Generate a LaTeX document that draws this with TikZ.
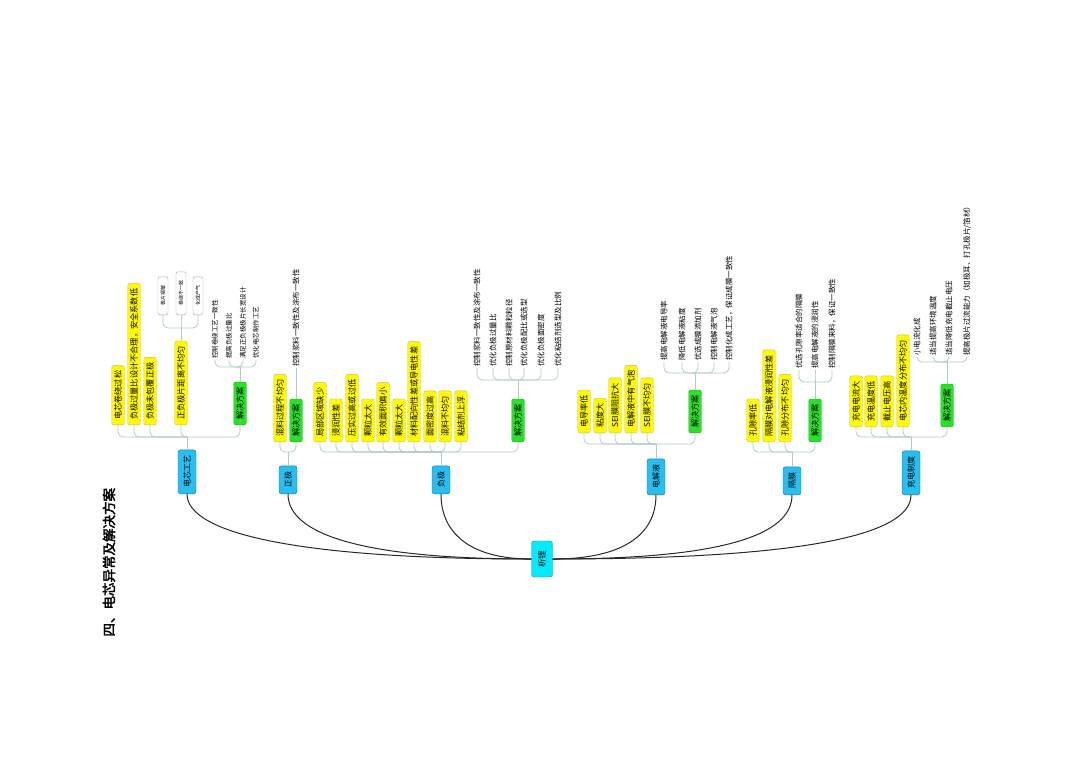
\documentclass[tikz,border=0pt]{standalone}
\usepackage{fontspec}
\setmainfont{Noto Sans CJK SC}[AutoFakeBold=2.5]
\usetikzlibrary{calc}
\definecolor{leafColor}{RGB}{255,250,0}
\definecolor{leafEdge}{RGB}{200,190,60}
\definecolor{planColor}{RGB}{40,225,40}
\definecolor{planEdge}{RGB}{40,160,40}
\definecolor{branchColor}{RGB}{40,190,240}
\definecolor{branchEdge}{RGB}{30,110,170}
\definecolor{rootColor}{RGB}{0,235,255}
\definecolor{rootEdge}{RGB}{40,140,170}
\definecolor{linkColor}{RGB}{175,205,190}
\definecolor{trunkColor}{RGB}{40,40,40}
\definecolor{causeEdge}{RGB}{160,170,165}

\begin{document}
\begin{tikzpicture}[x=1pt,y=-1pt,
leaf/.style={
    rotate=90, draw=leafEdge, fill=leafColor, rounded corners=2pt,
    inner xsep=5pt, inner ysep=0pt, minimum height=12.5pt,
    font=\fontsize{8.2}{9}\selectfont},
plan/.style={
    leaf, draw=planEdge, fill=planColor},
cause/.style={
    leaf, draw=causeEdge, fill=white, inner xsep=9pt, minimum height=10pt,
    font=\fontsize{5}{6}\selectfont},
branch/.style={
    rotate=90, draw=branchEdge, fill=branchColor, rounded corners=2.5pt,
    inner xsep=6pt, minimum height=18pt,
    font=\fontsize{8}{9}\selectfont},
rootbox/.style={
    branch, draw=rootEdge, fill=rootColor, minimum height=21pt,
    minimum width=36pt, font=\fontsize{8.5}{9}\selectfont},
item/.style={
    rotate=90, inner xsep=1pt, inner ysep=1pt,
    font=\fontsize{7.5}{8}\selectfont},
smallitem/.style={
    item, font=\fontsize{6.5}{7}\selectfont},
link/.style={
    draw=linkColor, line width=0.8pt, rounded corners=5pt},
trunk/.style={
    draw=trunkColor, line width=1pt}
]

\useasboundingbox (0,0) rectangle (1080,764);

\node[rotate=90, anchor=west, font=\fontsize{13.5}{14}\selectfont\bfseries]
        (title) at (109,640) {四、电芯异常及解决方案};

\node[rootbox] (root) at (542,559) {析锂};

\node[branch, anchor=west] (gy) at (187,494) {电芯工艺};
\node[branch, anchor=west] (zj) at (288,494) {正极};
\node[branch, anchor=west] (fj) at (441,494) {负极};
\node[branch, anchor=west] (dj) at (656,495) {电解液};
\node[branch, anchor=west] (gm) at (792,495) {隔膜};
\node[branch, anchor=west] (cd) at (911,495) {充电制度};

\foreach \b/\d in {gy/-230, zj/-170, fj/-60}
    \draw[trunk] (\b.west) .. controls +(0,40) and +(\d,0) .. (root.north);
\foreach \b/\d in {dj/70, gm/170, cd/250}
    \draw[trunk] (\b.west) .. controls +(0,40) and +(\d,0) .. (root.south);

% 电芯工艺
\foreach \x/\t [count=\i] in {118/电芯卷绕过松, 134/{负极过量比设计不合理，安全系数低},
                             150/负极未包覆正极, 181/正负极片距离不均匀}
    \node[leaf, anchor=west] (gy\i) at (\x,425) {\t};
\node[plan, anchor=west] (gyP) at (240,425) {解决方案};
\coordinate (gyJ) at (187,437);
\draw[link] (gy.east) -- (gyJ);
\foreach \n in {gy1,gy2,gy3,gy4,gyP}
    \draw[link] (gyJ) -| (\n.west);

\foreach \x/\t [count=\i] in {163/极片褶皱, 181/卷绕不一致, 198/化成产气}
    \node[cause, anchor=west] (gy4c\i) at (\x,315) {\t};
\coordinate (gy4J) at (181,328);
\draw[link] (gy4.east) -- (gy4J);
\foreach \i in {1,2,3}
    \draw[link] (gy4J) -| (gy4c\i.west);

\foreach \x/\t [count=\i] in {215/控制卷绕工艺一致性, 229/提高负极过量比,
                             243/满足正负极极片长宽设计, 256/优化电芯制作工艺}
    \node[smallitem, anchor=west] (gyP\i) at (\x,360) {\t};
\coordinate (gyPJ) at (240,367);
\draw[link] (gyP.east) -- (gyPJ);
\foreach \i in {1,...,4}
    \draw[link] (gyPJ) -| (gyP\i.west);

% 正极
\node[leaf, anchor=west] (zj1) at (280,442) {混料过程不均匀};
\node[plan, anchor=west] (zjP) at (296,442) {解决方案};
\coordinate (zjJ) at (288,452);
\draw[link] (zj.east) -- (zjJ);
\foreach \n in {zj1,zjP}
    \draw[link] (zjJ) -| (\n.west);
\node[item, anchor=west] (zjP1) at (296,368) {控制浆料一致性及涂布一致性};
\draw[link] (zjP.east) -- (zjP1.west);

% 负极
\foreach \x/\t [count=\i] in {320/局部区域缺少, 336/浸润性差, 352/压实过高或过低,
                             368/颗粒太大, 383/有效面积偏小, 399/颗粒太大,
                             414/材料配向性差或导电性差, 430/面密度过高,
                             445/混料不均匀, 461/粘结剂上浮}
    \node[leaf, anchor=west] (fj\i) at (\x,442) {\t};
\node[plan, anchor=west] (fjP) at (518,442) {解决方案};
\coordinate (fjJ) at (441,452);
\draw[link] (fj.east) -- (fjJ);
\foreach \n in {fj1,fj2,fj3,fj4,fj5,fj6,fj7,fj8,fj9,fj10,fjP}
    \draw[link] (fjJ) -| (\n.west);

\foreach \x/\t [count=\i] in {477/控制浆料一致性及涂布一致性, 493/优化负极过量比,
                             509/控制原材料颗粒粒径, 524/优化负极配比或选型,
                             541/优化负极面密度, 558/优化粘结剂选型及比例}
    \node[item, anchor=west] (fjP\i) at (\x,368) {\t};
\coordinate (fjPJ) at (518,380);
\draw[link] (fjP.east) -- (fjPJ);
\foreach \i in {1,...,6}
    \draw[link] (fjPJ) -| (fjP\i.west);

% 电解液
\foreach \x/\t [count=\i] in {584/电导率低, 600/粘度大, 615/SEI膜阻抗大,
                             631/电解液中有气泡, 647/SEI膜不均匀}
    \node[leaf, anchor=west] (dj\i) at (\x,433) {\t};
\node[plan, anchor=west] (djP) at (695,433) {解决方案};
\coordinate (djJ) at (656,444);
\draw[link] (dj.east) -- (djJ);
\foreach \n in {dj1,dj2,dj3,dj4,dj5,djP}
    \draw[link] (djJ) -| (\n.west);

\foreach \x/\t [count=\i] in {664/提高电解液电导率, 682/降低电解液粘度,
                             698/优选成膜添加剂, 714/控制电解液气泡,
                             729/{控制化成工艺，保证成膜一致性}}
    \node[item, anchor=west] (djP\i) at (\x,362) {\t};
\coordinate (djPJ) at (695,373);
\draw[link] (djP.east) -- (djPJ);
\foreach \i in {1,...,5}
    \draw[link] (djPJ) -| (djP\i.west);

% 隔膜
\foreach \x/\t [count=\i] in {753/孔隙率低, 769/隔膜对电解液浸润性差, 785/孔隙分布不均匀}
    \node[leaf, anchor=west] (gm\i) at (\x,442) {\t};
\node[plan, anchor=west] (gmP) at (815,442) {解决方案};
\coordinate (gmJ) at (792,452);
\draw[link] (gm.east) -- (gmJ);
\foreach \n in {gm1,gm2,gm3,gmP}
    \draw[link] (gmJ) -| (\n.west);

\foreach \x/\t [count=\i] in {799/优选孔隙率适合的隔膜, 815/提高电解液的浸润性,
                             832/{控制隔膜来料，保证一致性}}
    \node[item, anchor=west] (gmP\i) at (\x,370) {\t};
\coordinate (gmPJ) at (815,382);
\draw[link] (gmP.east) -- (gmPJ);
\foreach \i in {1,2,3}
    \draw[link] (gmPJ) -| (gmP\i.west);

% 充电制度
\foreach \x/\t [count=\i] in {856/充电电流大, 871/充电温度低, 887/截止电压高,
                             903/电芯内温度分布不均匀}
    \node[leaf, anchor=west] (cd\i) at (\x,427) {\t};
\node[plan, anchor=west] (cdP) at (947,427) {解决方案};
\coordinate (cdJ) at (911,437);
\draw[link] (cd.east) -- (cdJ);
\foreach \n in {cd1,cd2,cd3,cd4,cdP}
    \draw[link] (cdJ) -| (\n.west);

\foreach \x/\t [count=\i] in {917/小电流化成, 933/适当提高环境温度,
                             949/适当降低充电截止电压,
                             967/{提高极片过流能力（如极耳、打孔极片/箔材）}}
    \node[item, anchor=west] (cdP\i) at (\x,357) {\t};
\coordinate (cdPJ) at (947,362);
\draw[link] (cdP.east) -- (cdPJ);
\foreach \i in {1,...,4}
    \draw[link] (cdPJ) -| (cdP\i.west);

\end{tikzpicture}
\end{document}
